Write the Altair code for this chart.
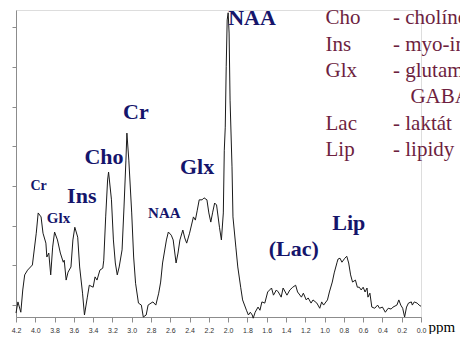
import altair as alt
import pandas as pd

# Spectrum (chemical shift in ppm, signal intensity in arbitrary units)
ppm = [4.20, 4.18, 4.15, 4.13, 4.11, 4.08, 4.03, 4.02, 3.99, 3.97, 3.94, 3.92, 3.89, 3.88, 3.86,
       3.84, 3.82, 3.80, 3.77, 3.74, 3.71, 3.70, 3.68, 3.66, 3.63, 3.61, 3.59, 3.56, 3.54, 3.51,
       3.49, 3.46, 3.44, 3.40, 3.38, 3.36, 3.33, 3.30, 3.29, 3.27, 3.25, 3.24, 3.21, 3.19, 3.17,
       3.15, 3.13, 3.10, 3.08, 3.06, 3.05, 3.03, 3.00, 2.98, 2.96, 2.93, 2.90, 2.88, 2.85, 2.83,
       2.80, 2.78, 2.75, 2.72, 2.70, 2.68, 2.64, 2.62, 2.59, 2.57, 2.54, 2.52, 2.50, 2.47, 2.45,
       2.43, 2.40, 2.36, 2.34, 2.32, 2.30, 2.27, 2.25, 2.22, 2.20, 2.18, 2.16, 2.14, 2.12, 2.09,
       2.07, 2.05, 2.04, 2.03, 2.02, 2.01, 2.00, 1.99, 1.98, 1.96, 1.95, 1.92, 1.90, 1.87, 1.85,
       1.81, 1.79, 1.77, 1.75, 1.74, 1.72, 1.69, 1.67, 1.65, 1.62, 1.59, 1.55, 1.53, 1.50, 1.48,
       1.45, 1.43, 1.39, 1.36, 1.33, 1.30, 1.28, 1.24, 1.22, 1.19, 1.17, 1.14, 1.12, 1.08, 1.05,
       1.03, 1.01, 0.97, 0.95, 0.92, 0.90, 0.87, 0.86, 0.84, 0.82, 0.79, 0.77, 0.75, 0.73, 0.71,
       0.68, 0.66, 0.64, 0.62, 0.60, 0.58, 0.56, 0.55, 0.53, 0.51, 0.48, 0.45, 0.43, 0.40, 0.37,
       0.34, 0.31, 0.29, 0.25, 0.23, 0.21, 0.19, 0.17, 0.15, 0.13, 0.10, 0.09, 0.07, 0.04, 0.02,
       0.00]
intensity = [-0.20, 0.08, -0.18, 0.38, 0.76, 0.88, 1.01, 1.21, 1.81, 2.32, 2.22, 1.81, 1.56, 1.21, 1.31,
             0.76, 1.46, 1.84, 1.64, 1.31, 1.08, 1.13, 0.63, 0.83, 0.96, 1.64, 1.96, 1.71, 0.96, 0.30,
             -0.25, 0.20, 0.50, 0.45, 0.71, 0.63, 0.88, 0.93, 1.13, 2.22, 3.15, 3.35, 2.65, 1.64, 1.06,
             0.76, 0.96, 1.39, 2.47, 3.65, 4.33, 3.65, 2.32, 1.21, 0.55, 0.05, 0.00, -0.30, -0.25, 0.00,
             0.05, 0.08, 0.00, 0.30, 0.58, 1.06, 1.64, 1.84, 1.76, 1.64, 1.06, 1.31, 1.64, 1.89, 1.69,
             1.56, 1.81, 2.22, 2.14, 2.39, 2.65, 2.65, 2.70, 2.65, 2.32, 2.09, 2.34, 2.57, 2.52, 1.96,
             1.64, 2.32, 3.90, 4.48, 6.00, 7.18, 7.36, 6.85, 5.16, 3.48, 2.22, 1.46, 0.96, 0.45, 0.13,
             -0.13, -0.25, -0.18, -0.25, -0.33, -0.18, -0.05, -0.13, 0.08, 0.05, 0.33, 0.43, 0.25, 0.38, 0.33,
             0.20, 0.43, 0.25, 0.38, 0.45, 0.50, 0.33, 0.20, 0.30, 0.13, 0.18, 0.05, 0.13, 0.05, -0.08,
             0.08, 0.00, 0.13, 0.33, 0.58, 0.81, 1.08, 1.16, 1.18, 1.08, 1.18, 1.23, 1.06, 0.76, 0.58,
             0.63, 0.45, 0.45, 0.38, 0.45, 0.33, 0.43, 0.20, 0.30, -0.05, -0.08, 0.00, -0.08, -0.05, -0.18,
             -0.08, -0.10, -0.05, 0.00, 0.13, 0.00, -0.08, -0.30, -0.05, 0.05, 0.08, 0.00, 0.08, 0.05, 0.00,
             -0.03]

x_ticks = [0.0, 0.2, 0.4, 0.6, 0.8, 1.0, 1.2, 1.4, 1.6, 1.8, 2.0,
           2.2, 2.4, 2.6, 2.8, 3.0, 3.2, 3.4, 3.6, 3.8, 4.0, 4.2]
y_ticks = [0, 1, 2, 3, 4, 5, 6, 7]

# Peak annotations
ann_text = ["NAA", "Cr", "Cho", "Glx", "Ins", "Cr", "Glx", "NAA", "(Lac)", "Lip"]
ann_ppm = [2.00, 3.09, 3.49, 2.50, 3.67, 4.05, 3.88, 2.83, 1.58, 0.92]
ann_int = [7.05, 4.69, 3.55, 3.30, 2.57, 2.90, 2.07, 2.19, 1.23, 1.89]
ann_size = [22, 22, 22, 22, 22, 14, 15, 15, 22, 22]

# Key (abbreviation - meaning)
key_abbr = ["Cho", "Ins", "Glx", "", "Lac", "Lip"]
key_desc = ["- cholínové zlúčeniny", "- myo-inozitol", "- glutamát, glutamín,", "GABA",
            "- laktát", "- lipidy"]
key_int = [7.08, 6.41, 5.75, 5.08, 4.41, 3.75]
key_abbr_ppm = [0.99, 0.99, 0.99, 0.99, 0.99, 0.99]
key_desc_ppm = [0.29, 0.29, 0.29, 0.11, 0.29, 0.29]

spec = pd.DataFrame({"ppm": ppm, "intensity": intensity, "order": list(range(len(ppm)))})
ann = pd.DataFrame({"ppm": ann_ppm, "intensity": ann_int, "label": ann_text, "size": ann_size})
key_a = pd.DataFrame({"ppm": key_abbr_ppm, "intensity": key_int, "label": key_abbr})
key_d = pd.DataFrame({"ppm": key_desc_ppm, "intensity": key_int, "label": key_desc})

xscale = alt.Scale(domain=[0, 4.2], reverse=True, nice=False, zero=False)
yscale = alt.Scale(domain=[-0.3, 7.43], nice=False, zero=False)

xaxis = alt.Axis(values=x_ticks, format=".1f", title="ppm", grid=False,
                 domainColor="#8c8c8c", tickColor="#8c8c8c", tickSize=5,
                 labelFont="Liberation Sans", labelFontSize=7, labelColor="#333333",
                 labelPadding=4, labelFlush=False, labelOverlap=False,
                 titleFont="Liberation Serif", titleFontSize=15,
                 titleFontWeight="normal", titleColor="#000000",
                 titleX=412, titleY=14, titleAlign="left",
                 titleBaseline="alphabetic")
yaxis = alt.Axis(values=y_ticks, labels=False, title=None, grid=False,
                 domainColor="#8c8c8c", tickColor="#8c8c8c", tickSize=4)

X = alt.X("ppm:Q", scale=xscale, axis=xaxis)
Y = alt.Y("intensity:Q", scale=yscale, axis=yaxis)

line = alt.Chart(spec).mark_line(color="#1a1a1a", strokeWidth=1, clip=False).encode(
    x=X, y=Y, order="order:Q",
)

labels = alt.Chart(ann).mark_text(
    align="left", baseline="alphabetic", font="Liberation Serif",
    fontWeight="bold", color="#15156b"
).encode(
    x=X, y=Y, text="label:N",
    size=alt.Size("size:Q", scale=None, legend=None),
)

key1 = alt.Chart(key_a).mark_text(
    align="left", baseline="alphabetic", font="Liberation Serif",
    fontSize=21, color="#6e1f3f"
).encode(x=X, y=Y, text="label:N")

key2 = alt.Chart(key_d).mark_text(
    align="left", baseline="alphabetic", font="Liberation Serif",
    fontSize=21, color="#6e1f3f"
).encode(x=X, y=Y, text="label:N")

chart = alt.layer(line, labels, key1, key2).properties(
    width=405, height=307,
    autosize=alt.AutoSizeParams(type="none"),
    padding={"left": 8, "top": 2, "right": 39, "bottom": 17},
).configure_view(stroke=None).configure_axis(labelOverlap=False).configure(background="white")

chart.save("out.html", embed_options={"renderer": "svg", "actions": False})
